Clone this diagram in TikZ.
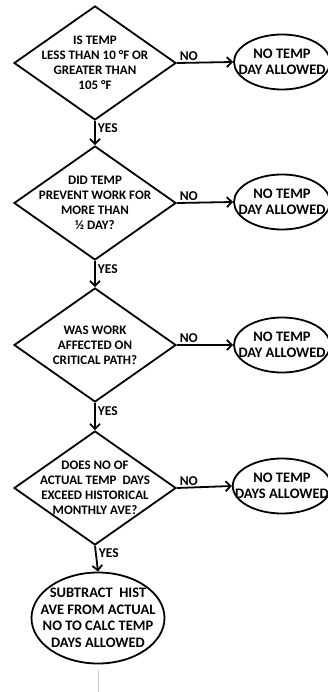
\documentclass[tikz,border=0pt]{standalone}
\usepackage{fontspec}
\setmainfont{Carlito}
\usetikzlibrary{shapes.geometric,arrows.meta}

\begin{document}
\begin{tikzpicture}[x=1pt,y=-1pt,
        decision/.style={diamond,draw,line width=1.8pt,inner sep=-15pt,minimum width=162pt,minimum height=114pt,align=center,font=\bfseries\fontsize{13}{15}\selectfont},
        outcome/.style={ellipse,draw,line width=1.8pt,inner sep=-12pt,minimum width=96pt,minimum height=55pt,align=center,font=\bfseries\fontsize{14.5}{16.5}\selectfont},
        flow/.style={line width=1.8pt,-{Straight Barb[length=5pt,width=10pt]}},
        lbl/.style={font=\bfseries\fontsize{13.5}{15}\selectfont,inner sep=2pt}]
        \useasboundingbox (0,0) rectangle (328,692);
        % questions
        \node[decision] (q1) at (95,63) {IS TEMP\\LESS THAN 10 °F OR\\GREATER THAN\\105 °F};
        \node[decision] (q2) at (95,203) {DID TEMP\\PREVENT WORK FOR\\MORE THAN\\½ DAY?};
        \node[decision] (q3) at (95,345) {WAS WORK\\AFFECTED ON\\CRITICAL PATH?};
        \node[decision] (q4) at (95,488) {DOES NO OF\\ACTUAL TEMP\ \ DAYS\\EXCEED HISTORICAL\\MONTHLY AVE?};
        % outcomes
        \node[outcome] (n1) at (282,62) {NO TEMP\\DAY ALLOWED};
        \node[outcome] (n2) at (282,202) {NO TEMP\\DAY ALLOWED};
        \node[outcome] (n3) at (282,345) {NO TEMP\\DAY ALLOWED};
        \node[outcome] (n4) at (282,486) {NO TEMP\\DAYS ALLOWED};
        \node[outcome,minimum width=133pt,minimum height=91pt] (res) at (98,618) {SUBTRACT\ \ HIST\\AVE FROM ACTUAL\\NO TO CALC TEMP\\DAYS ALLOWED};
        \foreach \i in {1,...,4}{\draw[flow] (q\i.east) -- node[lbl,pos=0,anchor=south west] {NO} (n\i.west);}
        \foreach \i/\j in {1/q2,2/q3,3/q4,4/res}{\draw[flow] (q\i.south) -- node[lbl,pos=0.3,anchor=west] {YES} (\j.north);}
        \draw[gray!40,line width=0.6pt] (98,670) -- (98,692);
\end{tikzpicture}
\end{document}
